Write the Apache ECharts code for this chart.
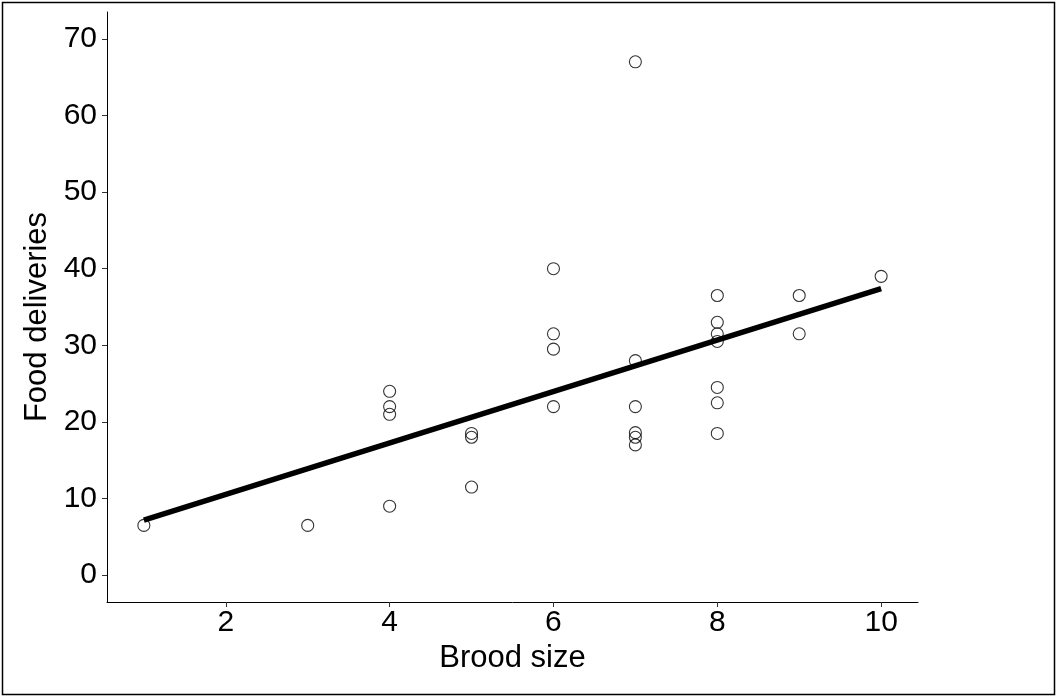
<!DOCTYPE html>
<html>
<head>
<meta charset="utf-8">
<script src="https://cdn.jsdelivr.net/npm/echarts@6/dist/echarts.min.js"></script>
<style>
html,body{margin:0;padding:0;background:#fff;}
#chart{width:1057px;height:697px;}
</style>
</head>
<body>
<div id="chart"></div>
<script>
// Data
const broodSize = [1, 3, 4, 4, 4, 4, 5, 5, 5, 6, 6, 6, 6, 7, 7, 7, 7, 7, 7, 8, 8, 8, 8, 8, 8, 8, 9, 9, 10];
const foodDeliveries = [6.5, 6.5, 24, 22, 21, 9, 18.5, 18, 11.5, 40, 31.5, 29.5, 22, 67, 28, 22, 18.6, 18, 17, 36.5, 33, 31.5, 30.5, 24.5, 22.5, 18.5, 36.5, 31.5, 39];
const fitX = [1, 10];
const fitY = [7.2, 37.4];
const xTicks = [2, 4, 6, 8, 10];
const yTicks = [0, 10, 20, 30, 40, 50, 60, 70];

const points = broodSize.map((x, i) => [x, foodDeliveries[i]]);
const fitLine = fitX.map((x, i) => [x, fitY[i]]);

const chart = echarts.init(document.getElementById('chart'), null, {renderer: 'canvas'});
const font = 'Liberation Sans, Arial, sans-serif';
chart.setOption({
  animation: false,
  backgroundColor: '#fff',
  graphic: [{
    type: 'rect',
    shape: {x: 2.5, y: 2.5, width: 1052, height: 692},
    style: {fill: 'none', stroke: '#000', lineWidth: 1.5},
    silent: true
  }],
  grid: {left: 107, top: 12, right: 139, bottom: 95, containLabel: false},
  xAxis: {
    type: 'value',
    min: 0.55, max: 10.45,
    name: 'Brood size',
    nameLocation: 'middle',
    nameGap: 34,
    nameTextStyle: {fontFamily: font, fontSize: 31, color: '#000'},
    axisLine: {show: true, onZero: false, lineStyle: {color: '#000', width: 1}},
    axisTick: {show: true, length: 5, lineStyle: {color: '#333'}, customValues: xTicks},
    axisLabel: {fontFamily: font, fontSize: 30, color: '#000', margin: 6, customValues: xTicks},
    splitLine: {show: false}
  },
  yAxis: {
    type: 'value',
    min: -3.5, max: 73.5,
    name: 'Food deliveries',
    nameLocation: 'middle',
    nameGap: 51,
    nameTextStyle: {fontFamily: font, fontSize: 31, color: '#000', padding: [0, 20, 0, 0]},
    axisLine: {show: true, onZero: false, lineStyle: {color: '#000', width: 1}},
    axisTick: {show: true, length: 5, lineStyle: {color: '#333'}, customValues: yTicks},
    axisLabel: {fontFamily: font, fontSize: 30, color: '#000', margin: 10, customValues: yTicks},
    splitLine: {show: false}
  },
  series: [
    {
      type: 'scatter',
      data: points,
      symbol: 'circle',
      symbolSize: 12,
      itemStyle: {color: 'rgba(0,0,0,0)', borderColor: '#000', borderWidth: 1.1},
      z: 2
    },
    {
      type: 'line',
      data: fitLine,
      showSymbol: false,
      symbol: 'none',
      lineStyle: {color: '#000', width: 5.5, cap: 'butt'},
      z: 3
    }
  ]
});
</script>
</body>
</html>
